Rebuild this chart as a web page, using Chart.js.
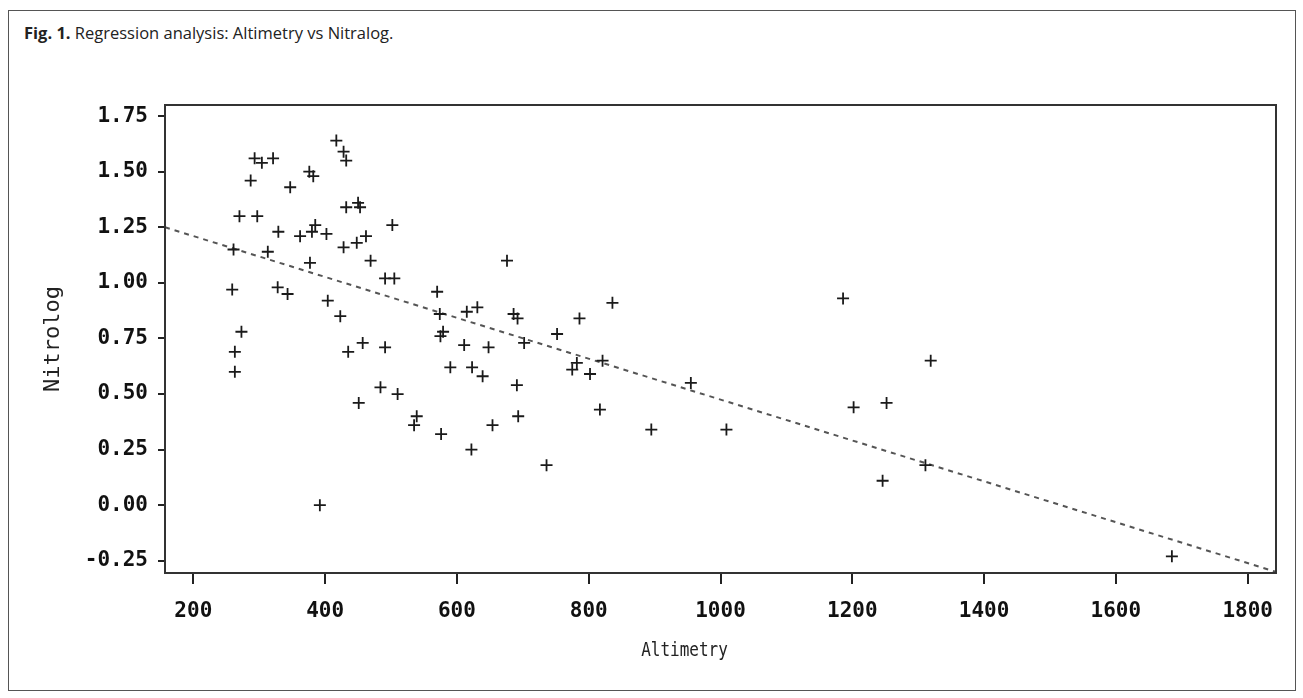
<!DOCTYPE html>
<html>
<head>
<meta charset="utf-8">
<script src="https://cdn.jsdelivr.net/npm/chart.js@4.4.1/dist/chart.umd.min.js"></script>
<style>
  body { margin: 0; background: #fff; }
  #wrap { position: relative; width: 1303px; height: 698px; }
  #frame { position: absolute; left: 8px; top: 10px; width: 1286px; height: 679px; border: 1px solid #555; }
  #caption { position: absolute; left: 24px; top: 21px; font-family: "Open Sans", sans-serif; font-size: 16.5px; color: #222; }
  #caption b { font-weight: 700; }
  #chart-box { position: absolute; left: 0; top: 0; width: 1303px; height: 698px; }
</style>
</head>
<body>
<div id="wrap">
  <div id="frame"></div>
  <div id="caption"><b>Fig. 1.</b> Regression analysis: Altimetry vs Nitralog.</div>
  <div id="chart-box"><canvas id="scatter-chart"></canvas></div>
</div>
<script>
const altimetry = [417, 428, 432, 293, 304, 321, 287, 376, 382, 347,
    270, 297, 432, 450, 453, 502, 329, 362, 380, 385,
    402, 428, 448, 462, 261, 313, 377, 469, 676, 491,
    505, 259, 328, 343, 404, 570, 423, 574, 615, 631,
    686, 692, 273, 263, 263, 435, 457, 491, 579, 575,
    611, 648, 590, 623, 639, 691, 693, 484, 510, 451,
    539, 535, 576, 654, 622, 392, 836, 786, 752, 702,
    775, 782, 802, 821, 955, 817, 895, 1009, 736, 1186,
    1202, 1319, 1252, 1311, 1246, 1685];
const nitrolog = [1.64, 1.59, 1.55, 1.56, 1.54, 1.56, 1.46, 1.50, 1.48, 1.43,
    1.30, 1.30, 1.34, 1.36, 1.34, 1.26, 1.23, 1.21, 1.23, 1.26,
    1.22, 1.16, 1.18, 1.21, 1.15, 1.14, 1.09, 1.10, 1.10, 1.02,
    1.02, 0.97, 0.98, 0.95, 0.92, 0.96, 0.85, 0.86, 0.87, 0.89,
    0.86, 0.84, 0.78, 0.69, 0.60, 0.69, 0.73, 0.71, 0.78, 0.76,
    0.72, 0.71, 0.62, 0.62, 0.58, 0.54, 0.40, 0.53, 0.50, 0.46,
    0.40, 0.36, 0.32, 0.36, 0.25, 0.00, 0.91, 0.84, 0.77, 0.73,
    0.61, 0.64, 0.59, 0.65, 0.55, 0.43, 0.34, 0.34, 0.18, 0.93,
    0.44, 0.65, 0.46, 0.18, 0.11, -0.23];

// fitted line, ends read at the frame edges
const fitX = [157, 1843];
const fitY = [1.25, -0.30];

const xTicks = [200, 400, 600, 800, 1000, 1200, 1400, 1600, 1800];
const yTicks = [-0.25, 0, 0.25, 0.5, 0.75, 1, 1.25, 1.5, 1.75];

const tickFont = { family: 'DejaVu Sans Mono', size: 21, weight: 'bold' };

// box round the plot area, and the x title which sits left of centre in the original
const frameBox = {
    id: 'frameBox',
    afterDraw(chart) {
        const a = chart.chartArea;
        const ctx = chart.ctx;
        ctx.save();
        ctx.strokeStyle = '#333';
        ctx.lineWidth = 2;
        ctx.strokeRect(a.left, a.top, a.right - a.left, a.bottom - a.top);
        ctx.fillStyle = '#222';
        ctx.font = '20px "DejaVu Sans Mono"';
        ctx.textAlign = 'center';
        ctx.textBaseline = 'alphabetic';
        // the original lettering is narrow, so squeeze it a little
        ctx.translate((a.left + a.right) / 2 - 36, a.bottom + 83);
        ctx.scale(0.8, 1);
        ctx.fillText('Altimetry', 0, 0);
        ctx.restore();
    }
};

new Chart(document.getElementById('scatter-chart'), {
    type: 'scatter',
    data: {
        datasets: [
            {
                label: 'Observed',
                data: altimetry.map((x, i) => ({ x: x, y: nitrolog[i] })),
                pointStyle: 'cross',
                pointRadius: 6,
                pointBorderWidth: 1.8,
                borderColor: '#1a1a1a',
                backgroundColor: '#1a1a1a'
            },
            {
                label: 'Regression',
                type: 'line',
                data: fitX.map((x, i) => ({ x: x, y: fitY[i] })),
                borderColor: '#555',
                borderWidth: 2,
                borderDash: [5, 5],
                pointRadius: 0,
                fill: false
            }
        ]
    },
    plugins: [frameBox],
    options: {
        responsive: true,
        maintainAspectRatio: false,
        animation: false,
        layout: { padding: { top: 105, right: 27, left: 0, bottom: 0 } },
        plugins: {
            legend: { display: false },
            tooltip: { enabled: false }
        },
        scales: {
            x: {
                type: 'linear',
                min: 157,
                max: 1843,
                afterBuildTicks: s => { s.ticks = xTicks.map(v => ({ value: v })); },
                afterFit: s => { s.height = 125; },
                grid: { drawOnChartArea: false, drawTicks: true, tickLength: 11, color: '#222', lineWidth: 2 },
                border: { display: false },
                ticks: { font: tickFont, color: '#111', padding: 15, maxRotation: 0,
                         callback: v => String(v) },
                title: { display: false }
            },
            y: {
                type: 'linear',
                min: -0.305,
                max: 1.80,
                afterBuildTicks: s => { s.ticks = yTicks.map(v => ({ value: v })); },
                afterFit: s => { s.width = 165; },
                grid: { drawOnChartArea: false, drawTicks: true, tickLength: 7, color: '#222', lineWidth: 2 },
                border: { display: false },
                ticks: { font: tickFont, color: '#111', padding: 10,
                         callback: v => Number(v).toFixed(2) },
                title: { display: true, text: 'Nitrolog', color: '#222',
                         font: { family: 'DejaVu Sans Mono', size: 22, weight: 'normal' },
                         padding: { top: 40, bottom: 0 } }
            }
        }
    }
});
</script>
</body>
</html>
